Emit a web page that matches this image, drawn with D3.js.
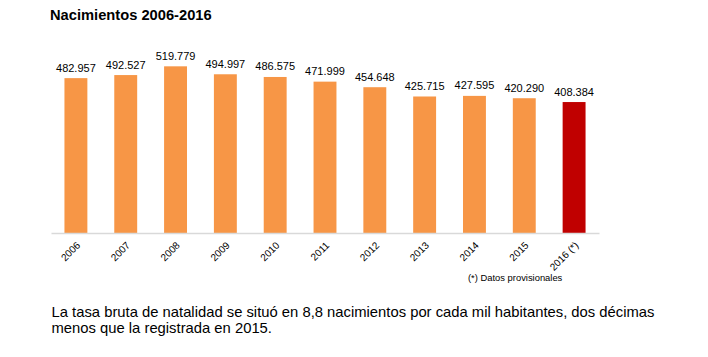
<!DOCTYPE html>
<html>
<head>
<meta charset="utf-8">
<script src="https://cdn.jsdelivr.net/npm/d3@7"></script>
<style>
  html, body { margin: 0; padding: 0; background: #fff; }
  svg { display: block; font-family: "Liberation Sans", Arial, sans-serif; }
</style>
</head>
<body>
<svg id="chart" width="708" height="357"></svg>
<script>
const years = ["2006", "2007", "2008", "2009", "2010", "2011", "2012", "2013", "2014", "2015", "2016 (*)"];
const births = [482957, 492527, 519779, 494997, 486575, 471999, 454648, 425715, 427595, 420290, 408384];
const provisional = [false, false, false, false, false, false, false, false, false, false, true];
const valueLabels = ["482.957", "492.527", "519.779", "494.997", "486.575", "471.999", "454.648", "425.715", "427.595", "420.290", "408.384"];
const title = "Nacimientos 2006-2016";
const footnote = "(*) Datos provisionales";
const paragraph = [
  "La tasa bruta de natalidad se situó en 8,8 nacimientos por cada mil habitantes, dos décimas",
  "menos que la registrada en 2015."
];

const svg = d3.select("#chart");
const data = years.map((y, i) => ({ year: y, value: births[i], label: valueLabels[i], prov: provisional[i] }));

const x = d3.scaleBand().domain(years).range([51, 599]).paddingInner(0.54).paddingOuter(0.27);
const y = d3.scaleLinear().domain([0, 600000]).range([233, 40.6]);

// title
svg.append("text")
  .attr("x", 50).attr("y", 20)
  .attr("font-size", "14.7px").attr("font-weight", "bold").attr("fill", "#000")
  .text(title);

// bars
svg.append("g").selectAll("rect").data(data).join("rect")
  .attr("x", d => x(d.year))
  .attr("width", x.bandwidth())
  .attr("y", d => y(d.value))
  .attr("height", d => y(0) - y(d.value))
  .attr("fill", d => d.prov ? "#C00000" : "#F79646");

// value labels
svg.append("g").selectAll("text").data(data).join("text")
  .attr("x", d => x(d.year) + x.bandwidth() / 2)
  .attr("y", d => y(d.value) - 6.5)
  .attr("text-anchor", "middle")
  .attr("font-size", "11px").attr("fill", "#000")
  .text(d => d.label);

// x axis
const xAxis = svg.append("g").attr("transform", `translate(0,${y(0)})`)
  .call(d3.axisBottom(x).tickSize(0).tickPadding(0));
xAxis.select(".domain").attr("stroke", "#d9d9d9").attr("stroke-width", 1.6);
xAxis.selectAll(".tick text")
  .attr("font-size", "10px").attr("fill", "#000")
  .attr("font-family", "'Liberation Sans', Arial, sans-serif")
  .attr("text-anchor", "end")
  .attr("dy", null).attr("y", null)
  .attr("transform", "translate(5,13) rotate(-45)");

// footnote
svg.append("text")
  .attr("x", 468).attr("y", 281)
  .attr("font-size", "9.4px").attr("fill", "#000")
  .text(footnote);

// paragraph
svg.append("g").selectAll("text").data(paragraph).join("text")
  .attr("x", 51.5)
  .attr("y", (d, i) => 317 + i * 15.5)
  .attr("font-size", "14.8px").attr("fill", "#000")
  .text(d => d);
</script>
</body>
</html>
